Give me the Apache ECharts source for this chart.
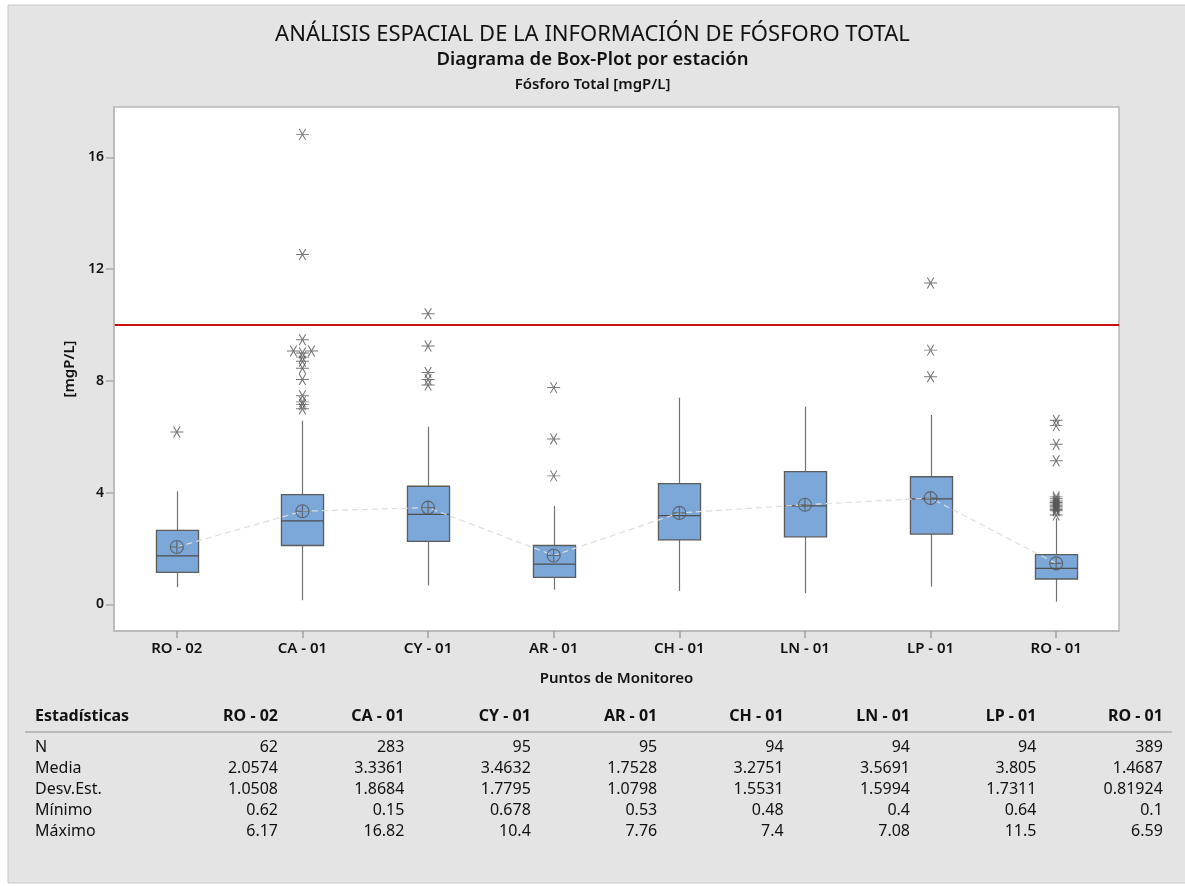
<!DOCTYPE html>
<html><head><meta charset="utf-8">
<script src="https://cdn.jsdelivr.net/npm/echarts@6/dist/echarts.min.js"></script>
<style>html,body{margin:0;padding:0;background:#fff}#c{width:1185px;height:886px}</style>
</head><body><div id="c"></div>
<script>
// ---------- DATA ----------
const categories = ['RO - 02','CA - 01','CY - 01','AR - 01','CH - 01','LN - 01','LP - 01','RO - 01'];
const whiskerLow  = [0.62, 0.15, 0.678, 0.53, 0.48, 0.4, 0.64, 0.1];
const q1          = [1.15, 2.11, 2.26, 0.97, 2.31, 2.42, 2.52, 0.91];
const median      = [1.74, 2.99, 3.22, 1.44, 3.18, 3.53, 3.78, 1.29];
const q3          = [2.65, 3.93, 4.23, 2.11, 4.32, 4.75, 4.57, 1.78];
const whiskerHigh = [4.05, 6.57, 6.36, 3.53, 7.4, 7.08, 6.78, 3.08];
const means       = [2.0574, 3.3361, 3.4632, 1.7528, 3.2751, 3.5691, 3.805, 1.4687];
const outliers = [
  [6.17],
  [16.82, 12.52, 9.47, 9.07, 9.07, 9.0, 8.85, 8.7, 8.45, 8.05, 7.47, 7.25, 7.15, 7.0],
  [10.4, 9.25, 8.3, 8.05, 7.85],
  [7.76, 5.92, 4.6],
  [],
  [],
  [11.5, 9.1, 8.15],
  [6.59, 6.4, 5.73, 5.14, 3.85, 3.78, 3.7, 3.65, 3.6, 3.55, 3.5, 3.45, 3.4, 3.35, 3.2]
];
const limitValue = 10;
const yTicks = [0, 4, 8, 12, 16];
const statHeader = 'Estadísticas';
const statLabels = ['N', 'Media', 'Desv.Est.', 'Mínimo', 'Máximo'];
const statN      = ['62', '283', '95', '95', '94', '94', '94', '389'];
const statMedia  = ['2.0574', '3.3361', '3.4632', '1.7528', '3.2751', '3.5691', '3.805', '1.4687'];
const statDesv   = ['1.0508', '1.8684', '1.7795', '1.0798', '1.5531', '1.5994', '1.7311', '0.81924'];
const statMin    = ['0.62', '0.15', '0.678', '0.53', '0.48', '0.4', '0.64', '0.1'];
const statMax    = ['6.17', '16.82', '10.4', '7.76', '7.4', '7.08', '11.5', '6.59'];

// ---------- STYLE / LAYOUT ----------
const FONT = '"Noto Sans", "Open Sans", sans-serif';
const jitterPx = { '1-3': -9, '1-4': 9 };   // horizontally displaced overlapping outliers
const MEAN_SYMBOL = 'path://M10,0A10,10,0,1,1,-10,0A10,10,0,1,1,10,0ZM-10,0L10,0M0,-10L0,10';
const STAR_SYMBOL = 'path://M-10,0L10,0M-5,-8.66L5,8.66M5,-8.66L-5,8.66';
const BORDER = '#b8b8b8';

const chart = echarts.init(document.getElementById('c'), null, { renderer: 'canvas' });

const boxData = categories.map((c, i) => [i, whiskerLow[i], q1[i], median[i], q3[i], whiskerHigh[i]]);
const outlierData = [];
outliers.forEach((arr, i) => arr.forEach((v, k) => {
  const item = { value: [i, v] };
  const j = jitterPx[i + '-' + k];
  if (j) item.symbolOffset = [j, 0];
  outlierData.push(item);
}));

// table graphics
const tableRows = [statN, statMedia, statDesv, statMin, statMax];
const colRight = i => 278 + i * 126.4;
const rowY = [747, 768, 789, 810, 831];
const TF = 16;
const tableEls = [];
tableEls.push({ type: 'text', x: 35, y: 716, style: { text: statHeader, font: 'bold ' + TF + 'px ' + FONT, fill: '#111', align: 'left', verticalAlign: 'middle' } });
categories.forEach((c, i) => tableEls.push({ type: 'text', x: colRight(i), y: 716,
  style: { text: c, font: 'bold ' + TF + 'px ' + FONT, fill: '#111', align: 'right', verticalAlign: 'middle' } }));
tableEls.push({ type: 'line', shape: { x1: 25, y1: 732, x2: 1172, y2: 732 }, style: { stroke: '#adadad', lineWidth: 1.5 } });
statLabels.forEach((lab, r) => {
  tableEls.push({ type: 'text', x: 35, y: rowY[r], style: { text: lab, font: TF + 'px ' + FONT, fill: '#111', align: 'left', verticalAlign: 'middle' } });
  tableRows[r].forEach((v, i) => tableEls.push({ type: 'text', x: colRight(i), y: rowY[r],
    style: { text: v, font: TF + 'px ' + FONT, fill: '#111', align: 'right', verticalAlign: 'middle' } }));
});

const option = {
  animation: false,
  backgroundColor: '#ffffff',
  textStyle: { fontFamily: FONT },
  title: [
    { text: 'ANÁLISIS ESPACIAL DE LA INFORMACIÓN DE FÓSFORO TOTAL', left: 'center', top: 21, padding: 0,
      textStyle: { fontSize: 22, fontWeight: 'normal', color: '#111', fontFamily: FONT, lineHeight: 27 } },
    { text: 'Diagrama de Box-Plot por estación', left: 'center', top: 49, padding: 0,
      textStyle: { fontSize: 18.5, fontWeight: 600, color: '#111', fontFamily: FONT, lineHeight: 22 } },
    { text: 'Fósforo Total [mgP/L]', left: 'center', top: 75, padding: 0,
      textStyle: { fontSize: 15, fontWeight: 600, color: '#111', fontFamily: FONT, lineHeight: 19 } }
  ],
  graphic: [
    { type: 'rect', z: -10, zlevel: 0, silent: true, shape: { x: 8, y: 5, width: 1180, height: 878 },
      style: { fill: '#e4e4e4', stroke: '#c8c8c8', lineWidth: 1 } },
    { type: 'group', children: tableEls }
  ],
  grid: { left: 114, top: 107, width: 1005, height: 524, show: true, backgroundColor: '#ffffff',
          borderColor: BORDER, borderWidth: 1.5, z: 0 },
  xAxis: {
    type: 'category', data: categories, z: 5,
    name: 'Puntos de Monitoreo', nameLocation: 'middle', nameGap: 40,
    nameTextStyle: { fontSize: 15, fontWeight: 600, color: '#111', fontFamily: FONT },
    axisLine: { show: true, onZero: false, lineStyle: { color: BORDER, width: 1.5 } },
    axisTick: { show: true, inside: false, interval: 0, alignWithLabel: true, length: 7, lineStyle: { color: '#a0a0a0', width: 1.5 } },
    axisLabel: { fontSize: 15, fontWeight: 600, color: '#111', margin: 10, fontFamily: FONT },
    splitLine: { show: false }
  },
  yAxis: {
    type: 'value', min: -0.95, max: 17.8, z: 5,
    name: '[mgP/L]', nameLocation: 'middle', nameGap: 37, nameRotate: 90,
    nameTextStyle: { fontSize: 15, fontWeight: 600, color: '#111', fontFamily: FONT },
    axisLine: { show: true, lineStyle: { color: BORDER, width: 1.5 } },
    axisTick: { show: true, length: 8, customValues: yTicks, lineStyle: { color: '#aaaaaa', width: 1.5 } },
    axisLabel: { fontSize: 14, fontWeight: 600, color: '#111', margin: 10, customValues: yTicks, fontFamily: FONT },
    splitLine: { show: false }
  },
  series: [
    {
      type: 'custom', name: 'box', z: 2,
      data: boxData,
      encode: { x: 0, y: [1, 2, 3, 4, 5] },
      renderItem: function (params, api) {
        const x = api.value(0);
        const lo = api.coord([x, api.value(1)]);
        const b1 = api.coord([x, api.value(2)]);
        const md = api.coord([x, api.value(3)]);
        const b3 = api.coord([x, api.value(4)]);
        const hi = api.coord([x, api.value(5)]);
        const w = api.size([1, 0])[0] * 0.335;
        const cx = Math.round(lo[0]) + 0.5;
        return { type: 'group', children: [
          { type: 'line', shape: { x1: cx, y1: b3[1], x2: cx, y2: hi[1] }, style: { stroke: '#727272', lineWidth: 1.2 } },
          { type: 'line', shape: { x1: cx, y1: lo[1], x2: cx, y2: b1[1] }, style: { stroke: '#727272', lineWidth: 1.2 } },
          { type: 'rect', shape: { x: cx - w / 2, y: b3[1], width: w, height: b1[1] - b3[1] },
            style: { fill: '#7ba7d9', stroke: '#5c5c5c', lineWidth: 1.3 } },
          { type: 'line', shape: { x1: cx - w / 2, y1: md[1], x2: cx + w / 2, y2: md[1] }, style: { stroke: '#4e4e4e', lineWidth: 1.2 } }
        ] };
      },
      markLine: {
        silent: true, symbol: 'none', label: { show: false },
        lineStyle: { color: '#cc1010', width: 2, type: 'solid' },
        data: [{ yAxis: limitValue }]
      }
    },
    {
      type: 'line', name: 'meanline', z: 3, data: means, symbol: 'none', silent: true,
      lineStyle: { color: '#dedede', width: 1.2, type: [6, 4] }
    },
    {
      type: 'scatter', name: 'mean', z: 4, data: means, symbol: MEAN_SYMBOL, symbolSize: 13,
      itemStyle: { color: 'rgba(0,0,0,0)', borderColor: '#555555', borderWidth: 1.1 }
    },
    {
      type: 'scatter', name: 'outliers', z: 4, data: outlierData, symbol: STAR_SYMBOL, symbolSize: [13, 11],
      itemStyle: { color: 'rgba(0,0,0,0)', borderColor: '#555555', borderWidth: 1 }
    }
  ]
};
chart.setOption(option);
</script>
</body></html>
